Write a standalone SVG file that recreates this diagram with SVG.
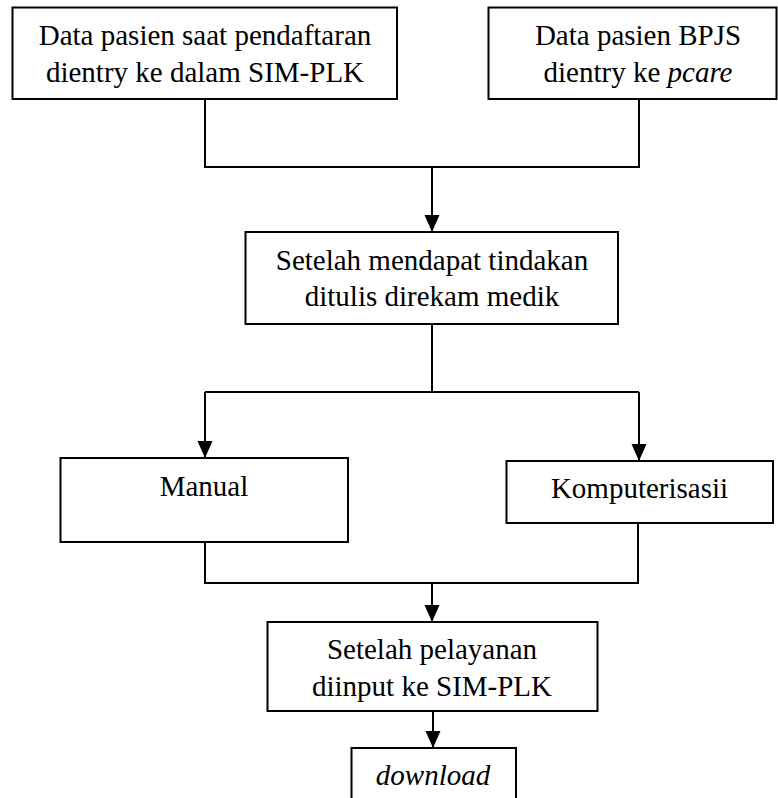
<svg xmlns="http://www.w3.org/2000/svg" width="778" height="798" viewBox="0 0 778 798">
<style>
.box{fill:#fff;stroke:#000;stroke-width:2}
.t{font-family:"Liberation Serif","Times New Roman",serif;font-size:29px;fill:#000;text-anchor:middle}
.i{font-style:italic}
.c{fill:none;stroke:#000;stroke-width:2}
</style>
<defs>
<marker id="ah" markerUnits="userSpaceOnUse" markerWidth="18" markerHeight="16" refX="17" refY="7.5" orient="auto">
<path d="M0,0 L17,7.5 L0,15 z" fill="#000"/>
</marker>
</defs>
<rect width="778" height="798" fill="#fff"/>
<g id="connectors">
<path class="c" d="M205,99 V167 H639 V99"/>
<path class="c" d="M432,167 V232" marker-end="url(#ah)"/>
<path class="c" d="M432,324 V392"/>
<path class="c" d="M205,392 H639"/>
<path class="c" d="M205,392 V458" marker-end="url(#ah)"/>
<path class="c" d="M639,392 V461" marker-end="url(#ah)"/>
<path class="c" d="M205,542 V583 H638 V523"/>
<path class="c" d="M432,583 V622" marker-end="url(#ah)"/>
<path class="c" d="M433,711 V748" marker-end="url(#ah)"/>
</g>
<g id="node1">
<rect class="box" x="12.5" y="7.5" width="384.5" height="91.5"/>
<text class="t" x="205" y="45">Data pasien saat pendaftaran</text>
<text class="t" x="205" y="82">dientry ke dalam SIM-PLK</text>
</g>
<g id="node2">
<rect class="box" x="488.5" y="7.5" width="288" height="91.5"/>
<text class="t" x="638" y="45">Data pasien BPJS</text>
<text class="t" x="638" y="82">dientry ke <tspan class="i">pcare</tspan></text>
</g>
<g id="node3">
<rect class="box" x="245.5" y="232" width="372.5" height="92"/>
<text class="t" x="432" y="270">Setelah mendapat tindakan</text>
<text class="t" x="432" y="306">ditulis direkam medik</text>
</g>
<g id="node4">
<rect class="box" x="60.5" y="458" width="287.5" height="84"/>
<text class="t" x="204" y="496">Manual</text>
</g>
<g id="node5">
<rect class="box" x="506.5" y="461" width="266.5" height="62"/>
<text class="t" x="639.5" y="498">Komputerisasii</text>
</g>
<g id="node6">
<rect class="box" x="267.5" y="622" width="330" height="89"/>
<text class="t" x="432" y="659">Setelah pelayanan</text>
<text class="t" x="432" y="696">diinput ke SIM-PLK</text>
</g>
<g id="node7">
<rect class="box" x="351.5" y="748" width="164.5" height="60"/>
<text class="t i" x="433" y="785">download</text>
</g>
</svg>
